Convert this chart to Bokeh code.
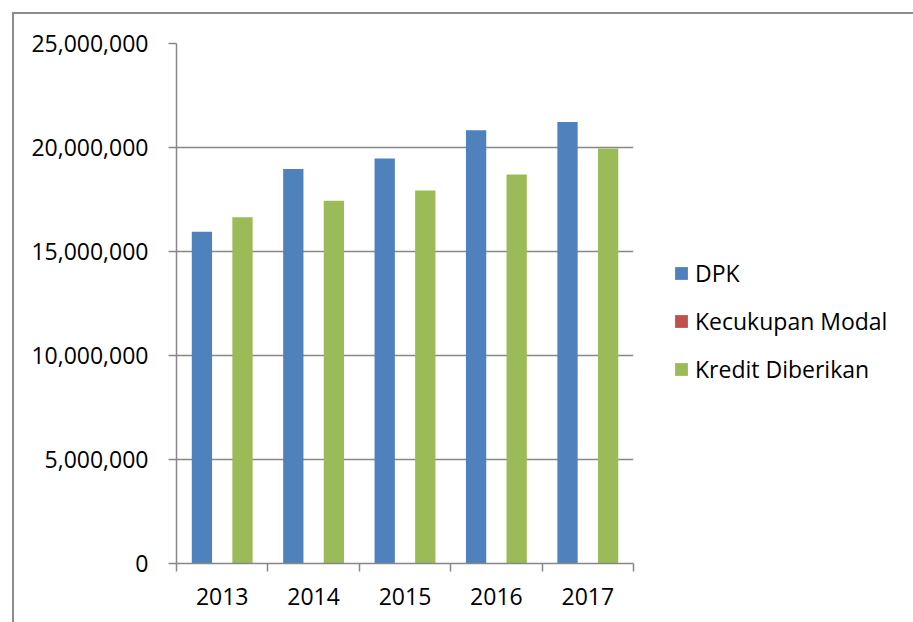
from bokeh.plotting import figure
from bokeh.models import (ColumnDataSource, FixedTicker, NumeralTickFormatter, Legend,
                          LegendItem, Range1d)
from bokeh.transform import dodge
from bokeh.embed import file_html
from bokeh.resources import INLINE

years = ["2013", "2014", "2015", "2016", "2017"]
dpk = [15950000, 18970000, 19470000, 20830000, 21220000]
kecukupan_modal = [20, 20, 21, 22, 23]
kredit_diberikan = [16650000, 17440000, 17930000, 18700000, 19950000]
y_ticks = [0, 5000000, 10000000, 15000000, 20000000, 25000000]
series_names = ["DPK", "Kecukupan Modal", "Kredit Diberikan"]
colors = ["#4F81BD", "#C0504D", "#9BBB59"]

centers = [i + 0.5 for i in range(len(years))]
bounds = list(range(len(years) + 1))

src = ColumnDataSource(dict(x=centers, dpk=dpk, km=kecukupan_modal, kr=kredit_diberikan))

FONT = "Open Sans"
GRAY = "#878787"
FS = "23px"

p = figure(frame_width=457, frame_height=520,
           x_range=Range1d(0, len(years)), y_range=Range1d(0, y_ticks[-1]),
           output_backend="svg", toolbar_location=None,
           min_border_left=162, min_border_top=29, min_border_bottom=62, min_border_right=0)
p.styles = {"margin-left": "12px", "margin-top": "12px",
            "border-top": "2px solid #8c8c8c", "border-left": "2px solid #8c8c8c"}
p.outline_line_color = None
p.background_fill_color = "white"
p.border_fill_color = "white"

bw = 0.222
renderers = []
for off, col, c in zip([-bw, 0, bw], ["dpk", "km", "kr"], colors):
    r = p.vbar(x=dodge("x", off, range=p.x_range), top=col, bottom=0, width=bw,
               source=src, fill_color=c, line_color=None)
    renderers.append(r)

# x axis
p.xaxis.ticker = FixedTicker(ticks=centers, minor_ticks=bounds)
p.xaxis.major_label_overrides = {c: y for c, y in zip(centers, years)}
p.xaxis.major_tick_out = 0
p.xaxis.major_tick_in = 0
p.xaxis.minor_tick_out = 8
p.xaxis.minor_tick_in = 0
p.xaxis.minor_tick_line_color = GRAY
p.xaxis.minor_tick_line_width = 1.5
p.xaxis.axis_line_color = GRAY
p.xaxis.axis_line_width = 1.5
p.xaxis.major_label_standoff = 16
p.xgrid.visible = False

# y axis
p.yaxis.ticker = FixedTicker(ticks=y_ticks)
p.yaxis.formatter = NumeralTickFormatter(format="0,0")
p.yaxis.major_tick_out = 8
p.yaxis.major_tick_in = 0
p.yaxis.minor_tick_line_color = None
p.yaxis.major_tick_line_color = GRAY
p.yaxis.major_tick_line_width = 1.5
p.yaxis.axis_line_color = GRAY
p.yaxis.axis_line_width = 1.5
p.yaxis.major_label_standoff = 20
p.ygrid.ticker = FixedTicker(ticks=y_ticks)
p.ygrid.grid_line_color = GRAY
p.ygrid.grid_line_width = 1.5

for ax in (p.xaxis, p.yaxis):
    ax.major_label_text_font = FONT
    ax.major_label_text_font_size = FS
    ax.major_label_text_color = "#000000"

legend = Legend(items=[LegendItem(label=n, renderers=[r]) for n, r in zip(series_names, renderers)],
                location=(40, 178), border_line_color=None, background_fill_alpha=0,
                label_text_font=FONT, label_text_font_size=FS, label_text_color="#000000",
                glyph_width=16, glyph_height=16, spacing=16, margin=0, padding=10,
                label_standoff=6)
p.add_layout(legend, "right")

open("out.html", "w").write(file_html(p, INLINE))
